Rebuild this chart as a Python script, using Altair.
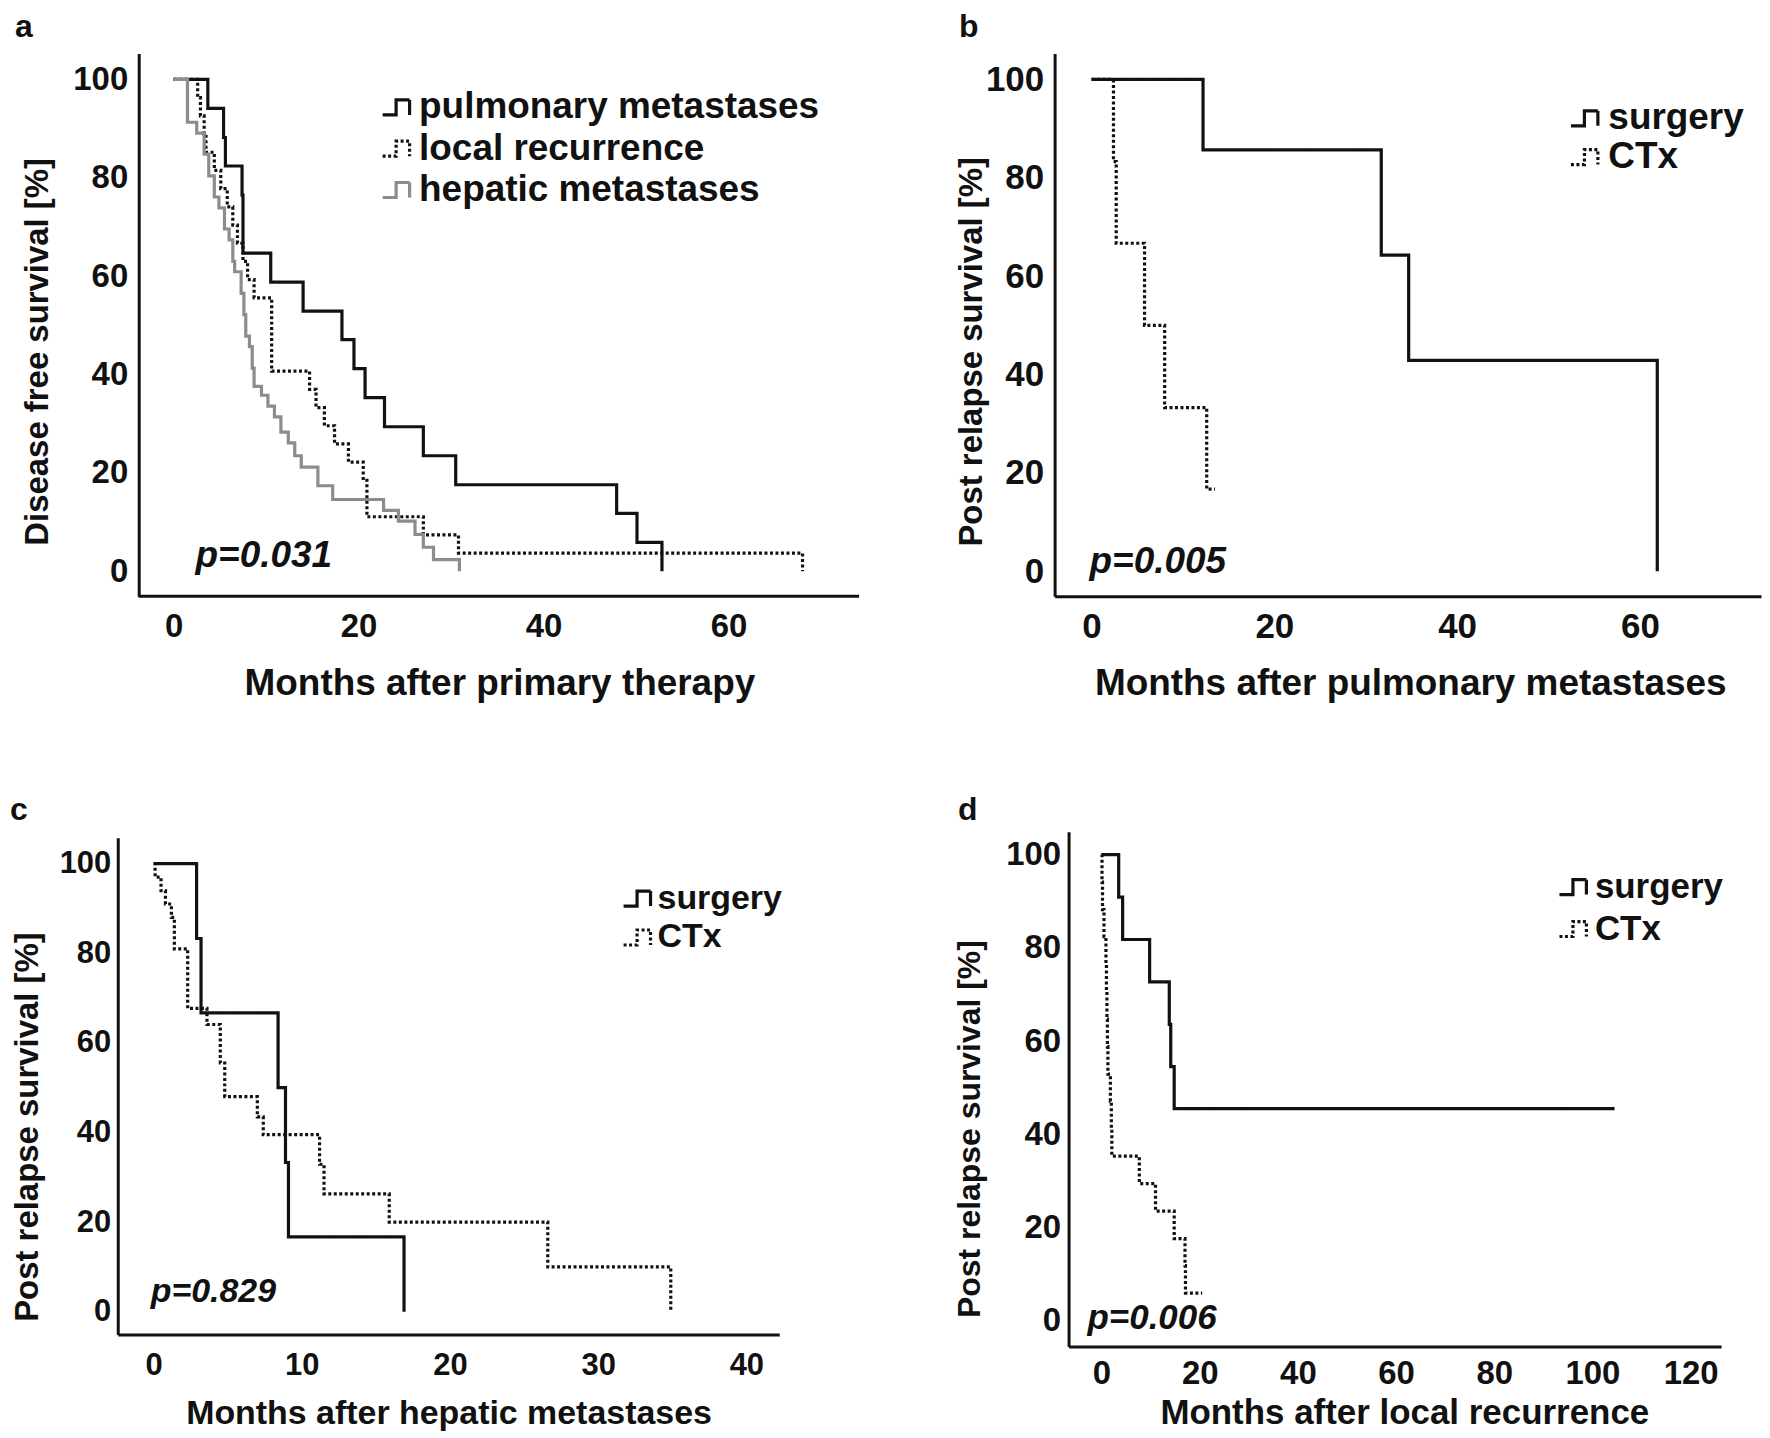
import altair as alt
import pandas as pd

FONT = "Liberation Sans"
BLACK = "#111111"
GREY = "#8c8c8c"
SOLID = [1, 0]
DOTTED = [3, 2.5]
STEP_ICON = "M-1,0.5H-0.1V-0.5H0.8V0.5"

# ---------------- data ----------------
# a: disease free survival by site of first relapse
a_groups = ["pulmonary metastases", "local recurrence", "hepatic metastases"]
a_pulm_t = [0, 3.7, 5.4, 5.6, 7.4, 7.5, 10.5, 14.0, 18.2, 19.5, 20.7, 22.8, 27.0, 30.5, 47.9, 50.1, 52.8]
a_pulm_s = [100, 94.1, 88.2, 82.4, 76.5, 64.7, 58.8, 52.9, 47.1, 41.2, 35.3, 29.4, 23.5, 17.6, 11.8, 5.9, 0]
a_local_t = [0, 2.6, 2.9, 3.3, 3.5, 4.4, 5.1, 5.8, 6.4, 6.9, 7.5, 8.0, 8.7, 10.6, 14.7, 15.4, 16.3,
             17.4, 18.9, 20.5, 20.9, 27.0, 30.8, 68.0]
a_local_s = [100, 96.3, 92.6, 88.9, 85.2, 81.5, 77.8, 74.1, 70.4, 66.7, 63.0, 59.3, 55.6, 40.7, 37.0,
             33.3, 29.6, 25.9, 22.2, 18.5, 11.1, 7.4, 3.7, 0]
a_hep_t = [0, 1.5, 2.5, 3.3, 3.8, 4.4, 4.9, 5.5, 6.0, 6.4, 6.6, 7.3, 7.6, 7.8, 8.2, 8.5, 8.7, 9.5, 10.2,
           10.9, 11.6, 12.4, 13.1, 13.8, 15.6, 17.2, 22.7, 24.3, 26.1, 27.0, 28.1, 30.9]
a_hep_s = [100, 91.3, 89.1, 84.8, 80.4, 76.1, 73.9, 69.6, 67.4, 63.0, 60.9, 56.5, 52.2, 47.8, 45.7, 41.3,
           37.6, 35.8, 33.6, 31.4, 28.3, 26.1, 23.5, 21.2, 17.4, 14.6, 12.4, 10.2, 7.5, 4.9, 2.4, 0]

therapy_groups = ["surgery", "CTx"]
# b: after pulmonary metastases
b_surg_t = [0, 12.2, 31.7, 34.7, 61.9]
b_surg_s = [100, 85.7, 64.3, 42.9, 0]
b_ctx_t = [0, 2.4, 2.7, 5.8, 8.0, 12.6, 13.5]
b_ctx_s = [100, 83.3, 66.7, 50.0, 33.3, 16.7, 16.7]
# c: after hepatic metastases
c_surg_t = [0, 2.9, 3.2, 8.4, 8.9, 9.1, 16.9]
c_surg_s = [100, 83.3, 66.7, 50.0, 33.3, 16.7, 0]
c_ctx_t = [0, 0.1, 0.5, 0.8, 1.2, 1.4, 2.3, 3.6, 4.5, 4.8, 7.0, 7.4, 11.2, 11.5, 15.9, 26.6, 34.9]
c_ctx_s = [100, 97.0, 94.0, 91.0, 88.0, 81.0, 67.7, 64.1, 55.5, 48.0, 43.5, 39.5, 32.9, 26.3, 20.0, 10.0, 0]
# d: after local recurrence
d_surg_t = [0, 3.5, 4.3, 9.8, 13.8, 14.1, 14.8, 104.5]
d_surg_s = [100, 90.9, 81.8, 72.7, 63.6, 54.5, 45.5, 45.5]
d_ctx_t = [0, 0.1, 0.2, 0.5, 0.9, 1.0, 1.1, 1.2, 1.3, 1.8, 2.0, 2.1, 7.7, 11.0, 14.8, 17.0, 17.1, 20.5]
d_ctx_s = [100, 94.1, 88.2, 82.4, 76.5, 70.6, 64.7, 58.8, 52.9, 47.1, 41.2, 35.3, 29.4, 23.5, 17.6,
           11.8, 5.9, 5.9]

y_ticks = [0, 20, 40, 60, 80, 100]
a_x_ticks = [0, 20, 40, 60]
b_x_ticks = [0, 20, 40, 60]
c_x_ticks = [0, 10, 20, 30, 40]
d_x_ticks = [0, 20, 40, 60, 80, 100, 120]

p_values = ["p=0.031", "p=0.005", "p=0.829", "p=0.006"]
letters = ["a", "b", "c", "d"]
x_titles = ["Months after primary therapy", "Months after pulmonary metastases",
            "Months after hepatic metastases", "Months after local recurrence"]
y_titles = ["Disease free survival [%]", "Post relapse survival [%]",
            "Post relapse survival [%]", "Post relapse survival [%]"]


def km_frame(series):
    rows = []
    for name, ts, ss in series:
        for i, (t, s) in enumerate(zip(ts, ss)):
            rows.append({"group": name, "t": t, "s": s, "i": i})
    return pd.DataFrame(rows)


def text_layer(txt, x, y, size, angle=0, align="center", style="normal", baseline="middle"):
    kw = dict(font=FONT, fontSize=size, fontWeight="bold", fontStyle=style,
              align=align, baseline=baseline, color=BLACK)
    if angle:
        kw["angle"] = angle
    return alt.Chart(pd.DataFrame({"txt": [txt]})).mark_text(**kw).encode(
        text="txt:N", x=alt.value(x), y=alt.value(y))


def panel(series, names, colors, dashes, widths, c):
    W, H = c["W"], c["H"]
    df = km_frame(series)
    leg = alt.Legend(orient="none", legendX=c["legX"], legendY=c["legY"], title=None,
                     labelFont=FONT, labelFontSize=c["legFS"], labelFontWeight="bold",
                     labelColor=BLACK, labelLimit=0, symbolType=STEP_ICON, symbolSize=c["symSize"],
                     symbolStrokeWidth=2.5, symbolFillColor="transparent",
                     labelOffset=c["labOff"], rowPadding=c["rowPad"], padding=0)
    own_x_line = c.get("xline") is not None
    lines = alt.Chart(df).mark_line(interpolate="step-after").encode(
        x=alt.X("t:Q", scale=alt.Scale(domain=c["xdom"], nice=False, zero=False),
                axis=alt.Axis(values=c["xticks"], title=None, grid=False, ticks=False, tickSize=0,
                              domain=not own_x_line, domainColor=BLACK, domainWidth=3,
                              labelFont=FONT, labelFontSize=c["tickFS"], labelFontWeight="bold",
                              labelColor=BLACK, labelPadding=c["xlp"], labelFlush=False)),
        y=alt.Y("s:Q", scale=alt.Scale(domain=c["ydom"], nice=False, zero=False),
                axis=alt.Axis(values=y_ticks, title=None, grid=False, ticks=False, tickSize=0,
                              domainColor=BLACK, domainWidth=3, labelFont=FONT,
                              labelFontSize=c["tickFS"], labelFontWeight="bold", labelColor=BLACK,
                              labelPadding=c["ylp"], offset=c.get("yoff", 0))),
        stroke=alt.Stroke("group:N", scale=alt.Scale(domain=names, range=colors), legend=leg),
        strokeDash=alt.StrokeDash("group:N", scale=alt.Scale(domain=names, range=dashes), legend=leg),
        strokeWidth=alt.StrokeWidth("group:N", scale=alt.Scale(domain=names, range=widths), legend=None),
        order="i:Q",
    )
    one = pd.DataFrame({"k": [0]})
    top_anchor = alt.Chart(one).mark_rule(color="white", strokeWidth=1).encode(
        x=alt.value(-c["L"]), x2=alt.value(W + c["R"]), y=alt.value(-c["T"]))
    bot_anchor = alt.Chart(one).mark_rule(color="white", strokeWidth=1).encode(
        x=alt.value(-c["L"]), x2=alt.value(W + c["R"]), y=alt.value(H + c["B"]))
    layers = [top_anchor, bot_anchor, lines]
    if own_x_line:
        layers.append(alt.Chart(one).mark_rule(color=BLACK, strokeWidth=3).encode(
            x=alt.datum(c["xline"]), x2=alt.datum(c["xdom"][1]), y=alt.datum(c["ydom"][0])))
    layers += [
        text_layer(c["letter"], c["letXY"][0], c["letXY"][1], 32, baseline="alphabetic"),
        text_layer(c["ytitle"], c["ytXY"][0], c["ytXY"][1], c["ytFS"], angle=270),
        text_layer(c["xtitle"], c["xtXY"][0], c["xtXY"][1], c["xtFS"]),
        text_layer(c["p"], c["pXY"][0], c["pXY"][1], c["pFS"], align="left", style="italic"),
    ]
    return alt.layer(*layers).properties(width=W, height=H)


cfg_a = dict(W=743, H=544, L=109, R=40, T=43, B=145, xdom=[-6.04, 74.11], ydom=[-5.07, 105.27],
             xline=-3.78, yoff=-21,
             xticks=a_x_ticks, tickFS=33, xlp=14, ylp=11,
             legX=262, legY=35.5, legFS=37, symSize=900, labOff=3, rowPad=3.4,
             letter=letters[0], letXY=(-94, -17), ytitle=y_titles[0], ytXY=(-80, 299), ytFS=33,
             xtitle=x_titles[0], xtXY=(383, 632), xtFS=37, p=p_values[0], pXY=(78, 504), pFS=37)
cfg_b = dict(W=708, H=544, L=154, R=0, T=43, B=145, xdom=[-4.04, 73.25], ydom=[-5.07, 105.27],
             xticks=b_x_ticks, tickFS=35, xlp=13, ylp=11,
             legX=514, legY=46.5, legFS=37, symSize=900, labOff=4, rowPad=0.8,
             letter=letters[1], letXY=(-86, -17), ytitle=y_titles[1], ytXY=(-83, 299), ytFS=33,
             xtitle=x_titles[1], xtXY=(357, 632), xtFS=37, p=p_values[1], pXY=(35, 510), pFS=37)
cfg_c = dict(W=663, H=498, L=109, R=120, T=95, B=95, xdom=[-2.42, 42.22], ydom=[-5.12, 105.79],
             xticks=c_x_ticks, tickFS=31, xlp=16, ylp=7,
             legX=505, legY=44, legFS=34, symSize=900, labOff=2, rowPad=5,
             letter=letters[2], letXY=(-99, -18), ytitle=y_titles[2], ytXY=(-90, 290), ytFS=33,
             xtitle=x_titles[2], xtXY=(332, 578), xtFS=34, p=p_values[2], pXY=(33, 455), pFS=34)
cfg_d = dict(W=654, H=516, L=168, R=40, T=89, B=83, xdom=[-6.71, 126.2], ydom=[-5.57, 104.93],
             xticks=d_x_ticks, tickFS=33, xlp=11.5, ylp=8,
             legX=489.5, legY=38, legFS=35, symSize=900, labOff=3, rowPad=6,
             letter=letters[3], letXY=(-101, -12), ytitle=y_titles[3], ytXY=(-99, 298), ytFS=32,
             xtitle=x_titles[3], xtXY=(337, 583), xtFS=35, p=p_values[3], pXY=(19, 487), pFS=35)

pa = panel([(a_groups[0], a_pulm_t, a_pulm_s), (a_groups[1], a_local_t, a_local_s),
            (a_groups[2], a_hep_t, a_hep_s)],
           a_groups, [BLACK, BLACK, GREY], [SOLID, DOTTED, SOLID], [3.2, 3.2, 2.6], cfg_a)
pb = panel([(therapy_groups[0], b_surg_t, b_surg_s), (therapy_groups[1], b_ctx_t, b_ctx_s)],
           therapy_groups, [BLACK, BLACK], [SOLID, DOTTED], [3.2, 3.2], cfg_b)
pc = panel([(therapy_groups[0], c_surg_t, c_surg_s), (therapy_groups[1], c_ctx_t, c_ctx_s)],
           therapy_groups, [BLACK, BLACK], [SOLID, DOTTED], [3.2, 3.2], cfg_c)
pd_ = panel([(therapy_groups[0], d_surg_t, d_surg_s), (therapy_groups[1], d_ctx_t, d_ctx_s)],
            therapy_groups, [BLACK, BLACK], [SOLID, DOTTED], [3.2, 3.2], cfg_d)

chart = alt.concat(pa, pb, pc, pd_, columns=2, spacing=0, align="none").resolve_scale(
    stroke="independent", strokeDash="independent", strokeWidth="independent"
).resolve_legend(stroke="independent", strokeDash="independent").properties(
    padding=0, background="white"
).configure_view(strokeWidth=0)

chart.save("out.html", embed_options={"renderer": "svg", "actions": False})
